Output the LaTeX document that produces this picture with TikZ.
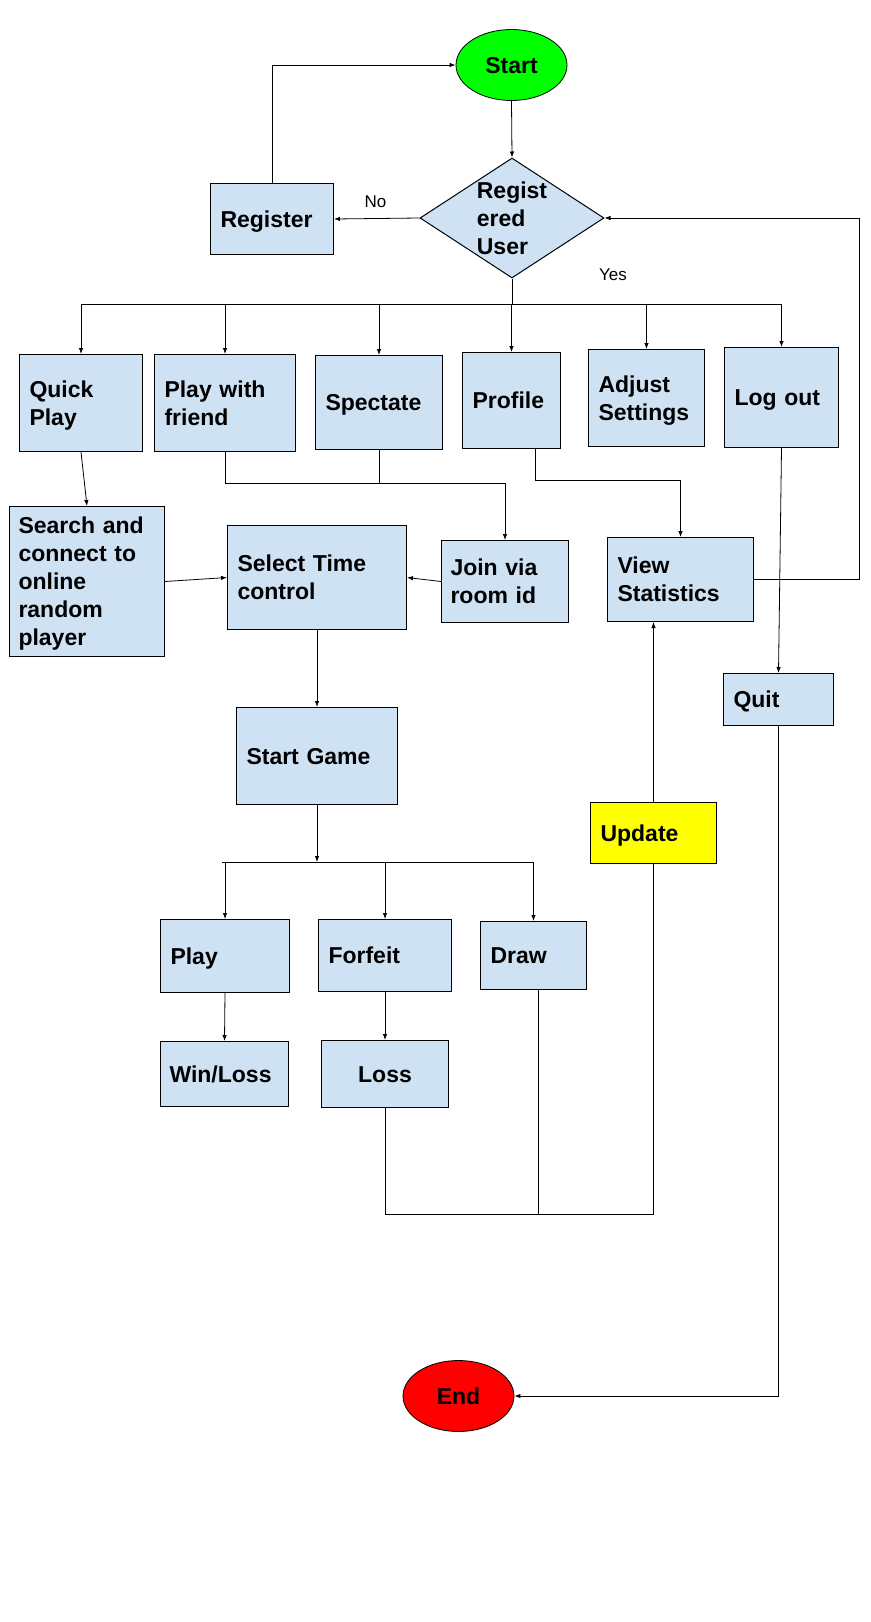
\documentclass[tikz,border=0pt]{standalone}
\usepackage{fontspec}
\setmainfont{Liberation Sans}
\usetikzlibrary{shapes.geometric,arrows.meta,calc}
\definecolor{lblue}{HTML}{CFE2F3}
\definecolor{sgreen}{HTML}{00FF00}
\definecolor{sred}{HTML}{FF0000}
\definecolor{syellow}{HTML}{FFFF00}
\newcommand{\bxfont}{\bfseries\fontsize{23}{28}\selectfont}
\begin{document}
\begin{tikzpicture}[x=1pt,y=-1pt,
  struts/.style={execute at begin node={\rule{0pt}{21.5pt}}, execute at end node={\rule[-5pt]{0pt}{5pt}}},
  box/.style={draw, fill=lblue, line width=1pt, anchor=north west, inner xsep=10pt, inner ysep=0pt, align=left, font=\bxfont, struts},
  term/.style={ellipse, draw, line width=0.8pt, minimum width=111pt, minimum height=71pt, inner sep=0pt, font=\bxfont, struts},
  conn/.style={line width=0.8pt},
  arr/.style={conn, -{Latex[length=6pt,width=4.5pt]}},
  lbl/.style={font=\fontsize{17}{20}\selectfont}]
\useasboundingbox (0,0) rectangle (870,1622);

% terminals and decision
\node[term, fill=sgreen] (start) at (511.5,65) {Start};
\node[diamond, draw, fill=lblue, line width=1pt, minimum width=184pt, minimum height=120pt, inner sep=0pt] (reg) at (512,218) {};
\node[align=left, font=\bxfont, inner sep=0pt] (regtxt) at (512,218) {Regist\\ered\\User};
\node[box, text width=103pt, minimum height=71pt] (register) at (210,183) {Register};
\node[lbl] (nolbl) at (375.5,202) {No};
\node[lbl] (yeslbl) at (613,275) {Yes};

% first row
\node[box, text width=103pt, minimum height=97pt] (qp) at (19,354) {Quick\\Play};
\node[box, text width=121pt, minimum height=97pt] (pwf) at (154,354) {Play with\\friend};
\node[box, text width=107pt, minimum height=94pt] (spec) at (315,355) {Spectate};
\node[box, text width=78pt, minimum height=96pt] (prof) at (462,352) {Profile};
\node[box, text width=96pt, minimum height=97pt] (adj) at (588,349) {Adjust\\Settings};
\node[box, text width=94pt, minimum height=100pt] (logout) at (724,347) {Log out};

% second row
\node[box, text width=137pt, minimum height=150pt, inner xsep=9pt] (search) at (9,506) {Search and\\connect to\\online\\random\\player};
\node[box, text width=159pt, minimum height=104pt] (stc) at (227,525) {Select Time\\control};
\node[box, text width=109pt, minimum height=82pt, inner xsep=9pt] (join) at (441,540) {Join via\\room id};
\node[box, text width=126pt, minimum height=84pt] (vs) at (607,537) {View\\Statistics};
\node[box, text width=90pt, minimum height=52pt] (quit) at (723,673) {Quit};

% game
\node[box, text width=141pt, minimum height=97pt] (sg) at (236,707) {Start Game};
\node[box, fill=syellow, text width=106pt, minimum height=61pt] (update) at (590,802) {Update};
\node[box, text width=109pt, minimum height=73pt] (play) at (160,919) {Play};
\node[box, text width=113pt, minimum height=72pt] (forfeit) at (318,919) {Forfeit};
\node[box, text width=86pt, minimum height=68pt] (draw) at (480,921) {Draw};
\node[box, text width=110pt, minimum height=65pt, inner xsep=9pt] (winloss) at (160,1041) {Win/Loss};
\node[box, text width=107pt, minimum height=67pt, align=center] (loss) at (321,1040) {Loss};
\node[term, fill=sred] (endn) at (458.5,1396) {End};

% helper coordinates
\coordinate (bus) at (0,304);
\coordinate (jbar) at (0,483);
\coordinate (pbar) at (0,480);
\coordinate (rx) at (859,0);
\coordinate (bus2) at (0,862);
\coordinate (bus3) at (0,1214);

% connectors: top
\draw[arr] (start.south) -- (reg.north);
\draw[arr] (reg.west) -- (register.east);
\draw[arr] (register.north) |- (start.west);
\draw[conn] (reg.south) -- (reg.south |- bus);
\draw[conn] (qp.north |- bus) -- (logout.north |- bus);
\foreach \n in {qp,pwf,spec,prof,adj,logout}
  \draw[arr] (\n.north |- bus) -- (\n.north);

% connectors: middle
\draw[arr] (qp.south) -- (search.north);
\draw[arr] (search.east) -- (stc.west);
\draw[arr] (join.west) -- (stc.east);
\draw[conn] (pwf.south) |- (join.north |- jbar);
\draw[conn] (spec.south) -- (spec.south |- jbar);
\draw[arr] (join.north |- jbar) -- (join.north);
\draw[arr] ($(prof.south)+(24,0)$) |- (vs.north |- pbar) -- (vs.north);
\draw[arr] (vs.east) -| (rx |- reg.east) -- (reg.east);
\draw[arr] (logout.south) -- (quit.north);
\draw[arr] (quit.south) |- (endn.east);

% connectors: game
\draw[arr] (stc.south) -- (sg.north);
\draw[arr] (sg.south) -- (sg.south |- bus2);
\draw[conn] ($(play.north |- bus2)+(-3,0)$) -- (draw.north |- bus2);
\foreach \n in {play,forfeit,draw}
  \draw[arr] (\n.north |- bus2) -- (\n.north);
\draw[arr] (play.south) -- (winloss.north);
\draw[arr] (forfeit.south) -- (loss.north);
\draw[conn] (loss.south) |- (update.south |- bus3) -- (update.south);
\draw[conn] ($(draw.south)+(5,0)$) -- ($(draw.south |- bus3)+(5,0)$);
\draw[arr] (update.north) -- (update.north |- vs.south);
\end{tikzpicture}
\end{document}
